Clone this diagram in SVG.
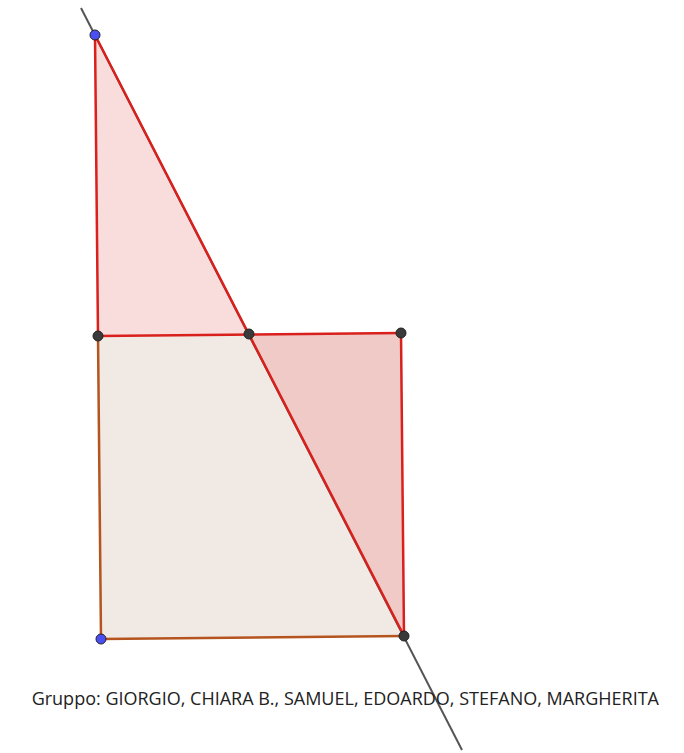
<svg xmlns="http://www.w3.org/2000/svg" width="684" height="753" viewBox="0 0 684 753">
<style>
.line{stroke:#555;stroke-width:2;fill:none}
.red{stroke:#d9201c;stroke-width:2.5;fill:none;stroke-linecap:round}
.brown{stroke:#b5541e;stroke-width:2.5;fill:none;stroke-linecap:round}
.pt{stroke:#222;stroke-width:1}
.blue{fill:#4a4ef5}
.dark{fill:#3a3a3a}
text{font-family:"Open Sans","Liberation Sans",sans-serif;font-size:18px;fill:#222}
</style>
<rect width="684" height="753" fill="#fff"/>
<g id="fills">
<polygon points="98,336 401,333 404,636 101,639" fill="#f1e9e4"/>
<polygon points="95,35 98,336 249,334" fill="#f9dcdc"/>
<polygon points="249,334 401,333 404,636" fill="#efcac6"/>
</g>
<g id="connectors">
<line class="line" x1="81" y1="8" x2="462" y2="750"/>
<line class="red" x1="95" y1="35" x2="98" y2="336"/>
<line class="red" x1="95" y1="35" x2="404" y2="636"/>
<line class="red" x1="98" y1="336" x2="401" y2="333"/>
<line class="red" x1="401" y1="333" x2="404" y2="636"/>
<line class="brown" x1="98" y1="336" x2="101" y2="639"/>
<line class="brown" x1="101" y1="639" x2="404" y2="636"/>
</g>
<g id="pA"><circle class="pt blue" cx="95" cy="35" r="5"/></g>
<g id="pB"><circle class="pt dark" cx="98" cy="336" r="5"/></g>
<g id="pM"><circle class="pt dark" cx="249" cy="334" r="5"/></g>
<g id="pC"><circle class="pt dark" cx="401" cy="333" r="5"/></g>
<g id="pD"><circle class="pt blue" cx="101" cy="639" r="5"/></g>
<g id="pE"><circle class="pt dark" cx="404" cy="636" r="5"/></g>
<g id="caption"><text x="659" y="705" text-anchor="end">Gruppo: GIORGIO, CHIARA B., SAMUEL, EDOARDO, STEFANO, MARGHERITA</text></g>
</svg>
